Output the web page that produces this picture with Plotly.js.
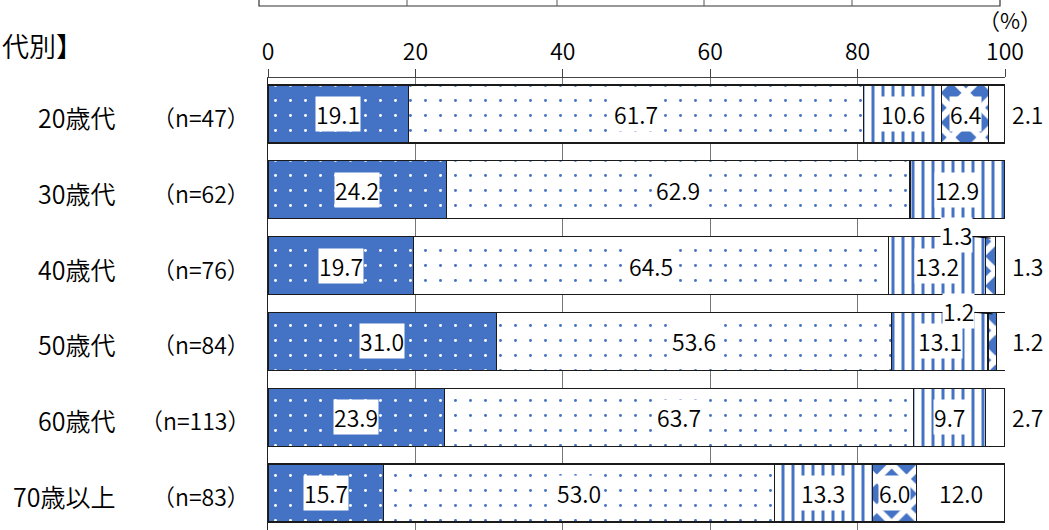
<!DOCTYPE html>
<html>
<head>
<meta charset="utf-8">
<script src="https://cdn.plot.ly/plotly-3.0.1.min.js"></script>
<style>
  html, body { margin: 0; padding: 0; background: #ffffff; overflow: hidden; }
  #chart { width: 1049px; height: 530px; }
</style>
</head>
<body>
<div id="chart"></div>
<script>
// ---- data ----
const categories = ["20歳代", "30歳代", "40歳代", "50歳代", "60歳代", "70歳以上"];
const sampleLabels = ["（n=47）", "（n=62）", "（n=76）", "（n=84）", "（n=113）", "（n=83）"];
const series1 = [19.1, 24.2, 19.7, 31.0, 23.9, 15.7];
const series2 = [61.7, 62.9, 64.5, 53.6, 63.7, 53.0];
const series3 = [10.6, 12.9, 13.2, 13.1, 9.7, 13.3];
const series4 = [6.4, 0, 1.3, 1.2, 0, 6.0];
const series5 = [2.1, 0, 1.3, 1.2, 2.7, 12.0];
const tickValues = [0, 20, 40, 60, 80, 100];
const tickLabels = ["0", "20", "40", "60", "80", "100"];
const sectionTitle = "代別】";
const unitLabel = "（%）";

// ---- styling ----
const BLUE = "#4472C4";
const FONT = "'Noto Sans CJK JP', 'Noto Sans', sans-serif";
const W = 350;
const allSeries = [series1, series2, series3, series4, series5];
const rows = categories.map((_, i) => i);
const BAR_W = 0.765;

const styles = [
  { color: BLUE, pattern: { shape: ".", fgcolor: "#ffffff", bgcolor: BLUE, size: 15, solidity: 0.03, fillmode: "replace" } },
  { color: "#ffffff", pattern: { shape: ".", fgcolor: BLUE, bgcolor: "#ffffff", size: 15, solidity: 0.03, fillmode: "replace" } },
  { color: "#ffffff", pattern: { shape: "|", fgcolor: BLUE, bgcolor: "#ffffff", size: 10, solidity: 0.3, fillmode: "replace" } },
  { color: BLUE, pattern: { shape: "x", fgcolor: "#ffffff", bgcolor: BLUE, size: 21, solidity: 0.5, fillmode: "replace" } },
  { color: "#ffffff", pattern: { shape: "" } }
];

const traces = allSeries.map((vals, k) => ({
  type: "bar",
  orientation: "h",
  x: vals,
  y: rows,
  width: BAR_W,
  marker: {
    color: styles[k].color,
    pattern: styles[k].pattern,
    line: { color: "#1a1a1a", width: 1.2 }
  },
  hoverinfo: "skip",
  showlegend: false
}));

// ---- value labels ----
const annotations = [];
const labelFont = { family: FONT, size: 23, color: "#000", weight: W };
rows.forEach(r => {
  let start = 0;
  allSeries.forEach((vals, k) => {
    const v = vals[r];
    if (v > 0) {
      const mid = start + v / 2;
      const txt = v.toFixed(1);
      if (k === 4 && v < 5) {
        annotations.push({
          x: 100, y: r, xref: "x", yref: "y", text: txt, showarrow: false,
          xanchor: "left", xshift: 5, font: labelFont
        });
      } else if (k === 3 && v < 3) {
        annotations.push({
          x: mid, y: r - BAR_W / 2 + 0.02, xref: "x", yref: "y", text: txt,
          showarrow: true, arrowhead: 0, arrowwidth: 1, arrowcolor: "#000",
          ax: -34, ay: -3, bgcolor: "#ffffff", borderpad: 0,
          font: labelFont
        });
      } else {
        annotations.push({
          x: mid, y: r, xref: "x", yref: "y", text: txt, showarrow: false,
          bgcolor: "#ffffff", borderpad: 0,
          font: labelFont
        });
      }
    }
    start += v;
  });
  // row labels
  annotations.push({
    x: (117 - 268) / 737, y: r, xref: "paper", yref: "y", text: categories[r],
    showarrow: false, xanchor: "right", yshift: -3,
    font: { family: FONT, size: 25, color: "#000", weight: W }
  });
  annotations.push({
    x: (252 - 268) / 737, y: r, xref: "paper", yref: "y", text: sampleLabels[r],
    showarrow: false, xanchor: "right", yshift: -3,
    font: { family: FONT, size: 23, color: "#000", weight: W }
  });
});

annotations.push({
  x: 0 - 268 / 737, y: (530 - 46) / 452, xref: "paper", yref: "paper",
  text: sectionTitle, showarrow: false, xanchor: "left", yanchor: "middle",
  font: { family: FONT, size: 27, color: "#000", weight: W }
});
annotations.push({
  x: (1010 - 268) / 737, y: (530 - 19) / 452, xref: "paper", yref: "paper",
  text: unitLabel, showarrow: false, xanchor: "center", yanchor: "middle",
  font: { family: FONT, size: 22, color: "#000", weight: W }
});

// ---- frame of the chart above (partially visible) ----
const shapes = [];
const px = p => (p - 268) / 737;
const py = p => (530 - p) / 452;
shapes.push({ type: "rect", xref: "paper", yref: "paper", x0: px(259), x1: px(1000), y0: py(6), y1: py(-20),
  line: { color: "#333", width: 1.2 }, fillcolor: "rgba(0,0,0,0)" });
[407, 557, 704, 852].forEach(p => shapes.push({ type: "line", xref: "paper", yref: "paper",
  x0: px(p), x1: px(p), y0: py(6), y1: py(-20), line: { color: "#555", width: 1 } }));

const layout = {
  width: 1049, height: 530,
  margin: { l: 268, r: 44, t: 78, b: 0 },
  paper_bgcolor: "#ffffff", plot_bgcolor: "#ffffff",
  barmode: "stack",
  bargap: 0.2,
  hovermode: false,
  showlegend: false,
  font: { family: FONT, color: "#000" },
  xaxis: {
    side: "top", range: [0, 100],
    tickvals: tickValues, ticktext: tickLabels,
    tickfont: { family: FONT, size: 23, color: "#000", weight: W },
    ticks: "outside", ticklen: 8, tickcolor: "#444", tickwidth: 1,
    showgrid: true, gridcolor: "#777", gridwidth: 1,
    showline: true, linecolor: "#444", linewidth: 1,
    zeroline: false, fixedrange: true
  },
  yaxis: {
    range: [5.488, -0.475],
    showticklabels: false, ticks: "", showgrid: false,
    showline: true, linecolor: "#222", linewidth: 1.2,
    zeroline: false, fixedrange: true
  },
  annotations: annotations,
  shapes: shapes
};

Plotly.newPlot("chart", traces, layout, { displayModeBar: false, staticPlot: true });
</script>
</body>
</html>
